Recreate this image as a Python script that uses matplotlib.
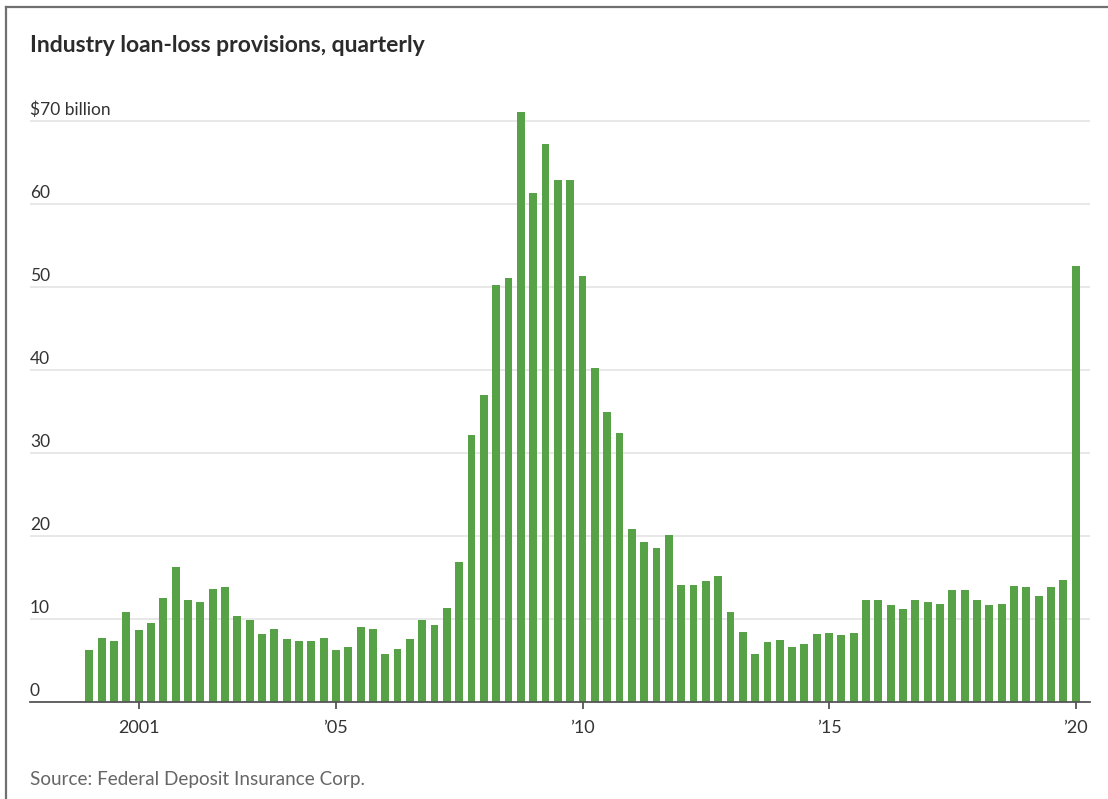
import numpy as np
import matplotlib.pyplot as plt
from matplotlib.lines import Line2D

# quarterly loan-loss provisions, $ billion, 2000 Q1 .. 2020 Q1
provisions = [
    6.2, 7.7, 7.3, 10.8,     # 2000
    8.6, 9.5, 12.5, 16.2,    # 2001
    12.3, 12.0, 13.6, 13.8,  # 2002
    10.3, 9.9, 8.2, 8.8,     # 2003
    7.5, 7.3, 7.3, 7.7,      # 2004
    6.2, 6.6, 9.0, 8.8,      # 2005
    5.8, 6.4, 7.5, 9.9,      # 2006
    9.2, 11.3, 16.8, 32.1,   # 2007
    37.0, 50.2, 51.0, 71.0,  # 2008
    61.3, 67.2, 62.8, 62.9,  # 2009
    51.3, 40.2, 34.9, 32.4,  # 2010
    20.8, 19.2, 18.5, 20.1,  # 2011
    14.1, 14.1, 14.6, 15.2,  # 2012
    10.8, 8.4, 5.8, 7.2,     # 2013
    7.4, 6.6, 7.0, 8.1,      # 2014
    8.3, 8.0, 8.3, 12.2,     # 2015
    12.3, 11.6, 11.2, 12.3,  # 2016
    12.0, 11.8, 13.4, 13.4,  # 2017
    12.3, 11.6, 11.8, 14.0,  # 2018
    13.8, 12.7, 13.8, 14.7,  # 2019
    52.5,                    # 2020
]
tick_quarters = [4, 20, 40, 60, 80]
tick_labels = ['2001', '\u201905', '\u201910', '\u201915', '\u201920']
y_ticks = [0, 10, 20, 30, 40, 50, 60, 70]
y_labels = ['0', '10', '20', '30', '40', '50', '60', '$70 billion']

plt.rcParams['font.family'] = ['Lato', 'DejaVu Sans']

W, H = 1108, 799
fig = plt.figure(figsize=(W / 100, H / 100), dpi=100)

# axes placed in pixels: baseline at y=701.7, 8.3 px per billion
left_px, right_px = 30, 1090
base_px = 701.7
ymax = 73
ax = fig.add_axes([left_px / W, 1 - base_px / H,
                   (right_px - left_px) / W, ymax * 8.3 / H])

x = np.arange(len(provisions))
ax.bar(x, provisions, width=0.64, color='#57a247', zorder=3)

ax.set_xlim(-4.81, 81.16)
ax.set_ylim(0, ymax)

for v in y_ticks[1:]:
    ax.axhline(v, color='#e4e4e4', lw=1.2, zorder=1)
for v, lab in zip(y_ticks, y_labels):
    ax.text(0, v + 0.35, lab, transform=ax.get_yaxis_transform(),
            ha='left', va='bottom', fontsize=12.5, color='#333333')

ax.set_yticks([])
ax.set_xticks(tick_quarters)
ax.set_xticklabels(tick_labels, fontsize=13, color='#333333')
ax.tick_params(axis='x', direction='out', length=5, width=1.3,
               color='#555555', pad=8)

for s in ['top', 'right', 'left']:
    ax.spines[s].set_visible(False)
ax.spines['bottom'].set_color('#555555')
ax.spines['bottom'].set_linewidth(1.3)
ax.spines['bottom'].set_zorder(4)

fig.text(30 / W, 1 - 46 / H, 'Industry loan-loss provisions, quarterly',
         fontsize=16.5, fontweight='bold', color='#2b2b2b', va='center', ha='left')
fig.text(30 / W, 1 - 779 / H, 'Source: Federal Deposit Insurance Corp.',
         fontsize=13.6, color='#666666', va='center', ha='left')

# outer frame (left and top edges only)
fig.add_artist(Line2D([6 / W, 6 / W], [0, 1 - 7 / H], transform=fig.transFigure,
                      color='#707070', lw=1.6))
fig.add_artist(Line2D([6 / W, 1], [1 - 7 / H, 1 - 7 / H], transform=fig.transFigure,
                      color='#707070', lw=1.6))

fig.savefig('out.png', dpi=100)
